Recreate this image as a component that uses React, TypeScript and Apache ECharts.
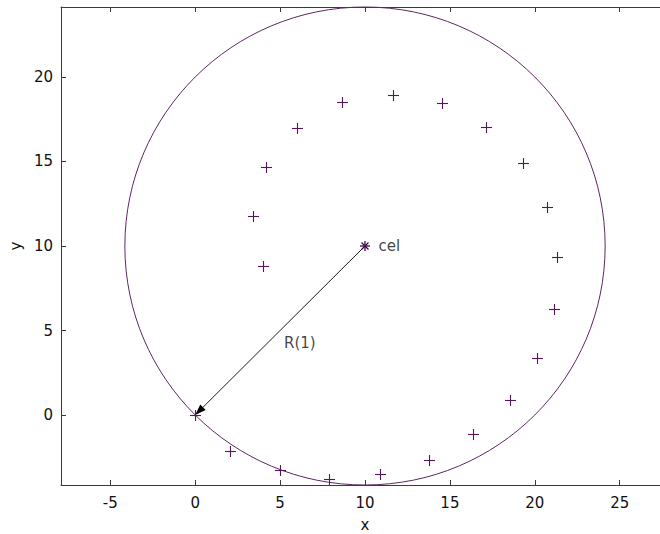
import React, { useEffect, useRef } from "react";
import * as echarts from "echarts";

// ---- data ----
const plusX = [0, 2.07, 4.97, 7.86, 10.9, 13.77, 16.34, 18.56, 20.13, 21.1, 21.3, 20.72, 19.3, 17.14, 14.53, 11.63, 8.65, 6.0, 4.17, 3.38, 3.97];
const plusY = [0, -2.15, -3.24, -3.77, -3.47, -2.64, -1.14, 0.91, 3.4, 6.3, 9.32, 12.28, 14.92, 17.06, 18.48, 18.95, 18.5, 17.0, 14.69, 11.77, 8.83];
const centerPoint = [10, 10];
const circleRadius = 14.14;
const arrowFrom = [10, 10];
const arrowTo = [0, 0];
const centerLabel = "cel";
const radiusLabel = "R(1)";
const radiusLabelPos = [5.2, 4.25];
const xTicks = [-5, 0, 5, 10, 15, 20, 25];
const yTicks = [0, 5, 10, 15, 20];
const xRange = [-7.9, 27.9];
const yRange = [-4.14, 24.14];

const MARK = "#56175a";
const CIRCLE = "#5e2764";
const STAR = "#3c0a40";
const AXIS = "#3a3a3a";
const TEXT = "#111111";
const FONT = "DejaVu Sans";

export default function App() {
  const ref = useRef<HTMLDivElement>(null);
  useEffect(() => {
    if (!ref.current) return;
    const chart = echarts.init(ref.current, undefined, { renderer: "svg" });
    const tickFmt = (list: number[]) => (v: number) =>
      list.some((t) => Math.abs(t - v) < 1e-6) ? String(Math.round(v)) : "";
    const axisCommon = {
      type: "value" as const,
      minInterval: 5,
      maxInterval: 5,
      splitLine: { show: false },
      axisLine: { show: true, onZero: false, lineStyle: { color: AXIS, width: 1 } },
      axisTick: { show: true, inside: true, length: 5, lineStyle: { color: AXIS, width: 1 } },
    };
    const option: any = {
      animation: false,
      backgroundColor: "#ffffff",
      grid: { left: 61, top: 7, width: 608, height: 478, outerBoundsMode: "none", containLabel: false },
      xAxis: [
        {
          ...axisCommon,
          min: xRange[0],
          max: xRange[1],
          position: "bottom",
          axisLabel: { formatter: tickFmt(xTicks), color: TEXT, fontSize: 15, fontFamily: FONT, margin: 10 },
          name: "x",
          nameLocation: "middle",
          nameGap: 32,
          nameTextStyle: { color: TEXT, fontSize: 15, fontFamily: FONT },
        },
        {
          ...axisCommon,
          min: xRange[0],
          max: xRange[1],
          position: "top",
          axisLabel: { show: false },
        },
      ],
      yAxis: [
        {
          ...axisCommon,
          min: yRange[0],
          max: yRange[1],
          position: "left",
          axisLabel: { formatter: tickFmt(yTicks), color: TEXT, fontSize: 15, fontFamily: FONT, margin: 8 },
          name: "y",
          nameLocation: "middle",
          nameGap: 36,
          nameTextStyle: { color: TEXT, fontSize: 15, fontFamily: FONT },
        },
      ],
      series: [
        {
          type: "custom",
          coordinateSystem: "cartesian2d",
          data: [[centerPoint[0], centerPoint[1], circleRadius]],
          encode: { x: 0, y: 1 },
          silent: true,
          renderItem: (_p: any, api: any) => {
            const c = api.coord([api.value(0), api.value(1)]);
            const s = api.size([api.value(2), api.value(2)]);
            return {
              type: "ellipse",
              shape: { cx: c[0], cy: c[1], rx: s[0], ry: s[1] },
              style: { fill: "none", stroke: CIRCLE, lineWidth: 1 },
            };
          },
        },
        {
          type: "custom",
          coordinateSystem: "cartesian2d",
          data: [[arrowFrom[0], arrowFrom[1], arrowTo[0], arrowTo[1]]],
          encode: { x: 0, y: 1 },
          silent: true,
          renderItem: (_p: any, api: any) => {
            const p1 = api.coord([api.value(0), api.value(1)]);
            const p2 = api.coord([api.value(2), api.value(3)]);
            const dx = p2[0] - p1[0];
            const dy = p2[1] - p1[1];
            const len = Math.hypot(dx, dy);
            const ux = dx / len;
            const uy = dy / len;
            const L = 11;
            const W = 3.8;
            const bx = p2[0] - ux * L;
            const by = p2[1] - uy * L;
            const nx = -uy;
            const ny = ux;
            return {
              type: "group",
              children: [
                { type: "line", shape: { x1: p1[0], y1: p1[1], x2: bx + ux * 2, y2: by + uy * 2 }, style: { stroke: "#000", lineWidth: 0.9 } },
                {
                  type: "polygon",
                  shape: { points: [[p2[0], p2[1]], [bx + nx * W, by + ny * W], [bx - nx * W, by - ny * W]] },
                  style: { fill: "#000" },
                },
              ],
            };
          },
        },
        {
          type: "custom",
          coordinateSystem: "cartesian2d",
          data: plusX.map((x, i) => [x, plusY[i]]),
          encode: { x: 0, y: 1 },
          silent: true,
          renderItem: (_p: any, api: any) => {
            const c = api.coord([api.value(0), api.value(1)]);
            const x = Math.round(c[0]) + 0.5;
            const y = Math.round(c[1]) + 0.5;
            const h = 5.5;
            return {
              type: "group",
              children: [
                { type: "line", shape: { x1: x - h, y1: y, x2: x + h, y2: y }, style: { stroke: MARK, lineWidth: 1.1 } },
                { type: "line", shape: { x1: x, y1: y - h, x2: x, y2: y + h }, style: { stroke: MARK, lineWidth: 1.1 } },
              ],
            };
          },
        },
        {
          type: "custom",
          coordinateSystem: "cartesian2d",
          data: [[centerPoint[0], centerPoint[1]]],
          encode: { x: 0, y: 1 },
          silent: true,
          renderItem: (_p: any, api: any) => {
            const c = api.coord([api.value(0), api.value(1)]);
            const x = c[0];
            const y = c[1];
            const h = 5;
            const d = 3.5;
            const st = { stroke: STAR, lineWidth: 1.3 };
            return {
              type: "group",
              children: [
                { type: "line", shape: { x1: x - h, y1: y, x2: x + h, y2: y }, style: st },
                { type: "line", shape: { x1: x, y1: y - h, x2: x, y2: y + h }, style: st },
                { type: "line", shape: { x1: x - d, y1: y - d, x2: x + d, y2: y + d }, style: st },
                { type: "line", shape: { x1: x - d, y1: y + d, x2: x + d, y2: y - d }, style: st },
              ],
            };
          },
        },
        {
          type: "scatter",
          data: [centerPoint],
          symbolSize: 1,
          itemStyle: { color: "rgba(0,0,0,0)" },
          silent: true,
          label: {
            show: true,
            formatter: centerLabel,
            position: "right",
            distance: 13,
            color: TEXT,
            fontSize: 15,
            fontFamily: FONT,
          },
        },
        {
          type: "scatter",
          data: [radiusLabelPos],
          symbolSize: 1,
          itemStyle: { color: "rgba(0,0,0,0)" },
          silent: true,
          label: {
            show: true,
            formatter: radiusLabel,
            position: "right",
            distance: 0,
            color: TEXT,
            fontSize: 15,
            fontFamily: FONT,
          },
        },
      ],
    };
    chart.setOption(option);
    return () => chart.dispose();
  }, []);
  return (
    <div
      ref={ref}
      style={{ position: "fixed", left: 0, top: 0, width: 660, height: 534, background: "#fff" }}
    />
  );
}
